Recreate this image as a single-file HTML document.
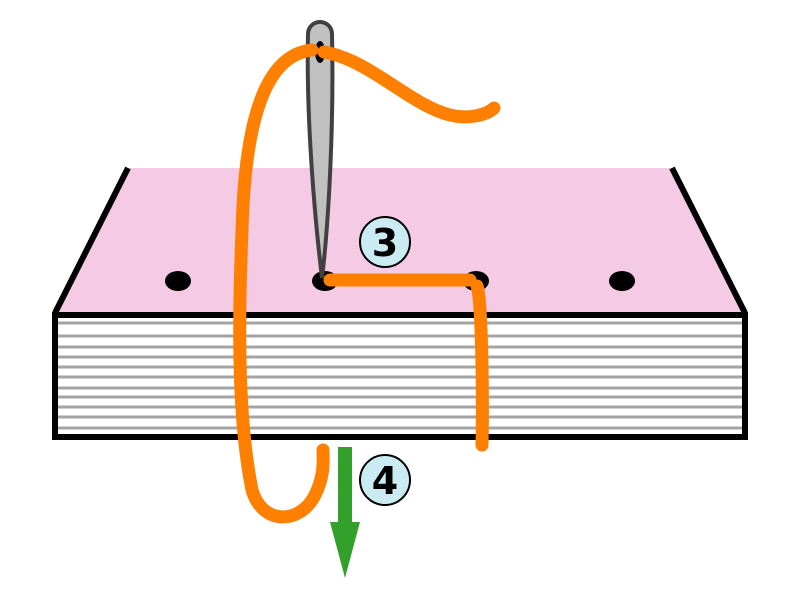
<!DOCTYPE html>
<html><head><style>body{margin:0;background:#fff}svg{display:block}</style></head><body>
<svg width="800" height="600" viewBox="0 0 800 600" xmlns="http://www.w3.org/2000/svg">
<polygon points="128,168 672,168 745,313 55,313" fill="#f5cae4"/>
<line x1="128" y1="168" x2="55" y2="313" stroke="#000" stroke-width="6"/>
<line x1="672" y1="168" x2="745" y2="313" stroke="#000" stroke-width="6"/>
<rect x="55" y="315" width="690" height="122" fill="#fff" stroke="#000" stroke-width="6"/>
<g stroke="#a4a4a4" stroke-width="3">
<line x1="58" y1="323" x2="742" y2="323"/><line x1="58" y1="336" x2="742" y2="336"/>
<line x1="58" y1="347" x2="742" y2="347"/><line x1="58" y1="357" x2="742" y2="357"/>
<line x1="58" y1="367" x2="742" y2="367"/><line x1="58" y1="377" x2="742" y2="377"/>
<line x1="58" y1="388" x2="742" y2="388"/><line x1="58" y1="397" x2="742" y2="397"/>
<line x1="58" y1="407" x2="742" y2="407"/><line x1="58" y1="417" x2="742" y2="417"/>
<line x1="58" y1="428" x2="742" y2="428"/>
</g>
<ellipse cx="178" cy="281" rx="13" ry="10"/>
<ellipse cx="325" cy="281" rx="13" ry="10"/>
<ellipse cx="476" cy="281" rx="13" ry="10"/>
<ellipse cx="622" cy="281" rx="13" ry="10"/>
<path d="M308,34 A12,12 0 0 1 332,34 C334,120 329,220 322,278 C315,220 306,120 308,34 Z" fill="#c0c0c0" stroke="#404040" stroke-width="4"/>
<ellipse cx="320" cy="52" rx="5" ry="11"/>
<g fill="none" stroke="#ff8000" stroke-width="13" stroke-linecap="round">
<path d="M312,50 C265,55 245,120 242,230 C238,330 238,420 252,490 C262,525 300,525 315,495 C325,475 323,460 323,450"/>
<path d="M324,52 C370,60 410,105 450,115 C470,120 488,114 494,108"/>
<path d="M330,280 L470,280"/>
<path d="M477,286 C482,300 483,400 482,445"/>
</g>
<rect x="338" y="447" width="14" height="78" fill="#33a02c"/>
<polygon points="330,522 360,522 345,578" fill="#33a02c"/>
<circle cx="385" cy="242" r="25" fill="#cbebf3" stroke="#000" stroke-width="2"/>
<text x="385" y="256" text-anchor="middle" font-family="DejaVu Sans, sans-serif" font-size="38" font-weight="bold">3</text>
<circle cx="385" cy="480" r="25" fill="#cbebf3" stroke="#000" stroke-width="2"/>
<text x="385" y="494" text-anchor="middle" font-family="DejaVu Sans, sans-serif" font-size="38" font-weight="bold">4</text>
</svg>
</body></html>
